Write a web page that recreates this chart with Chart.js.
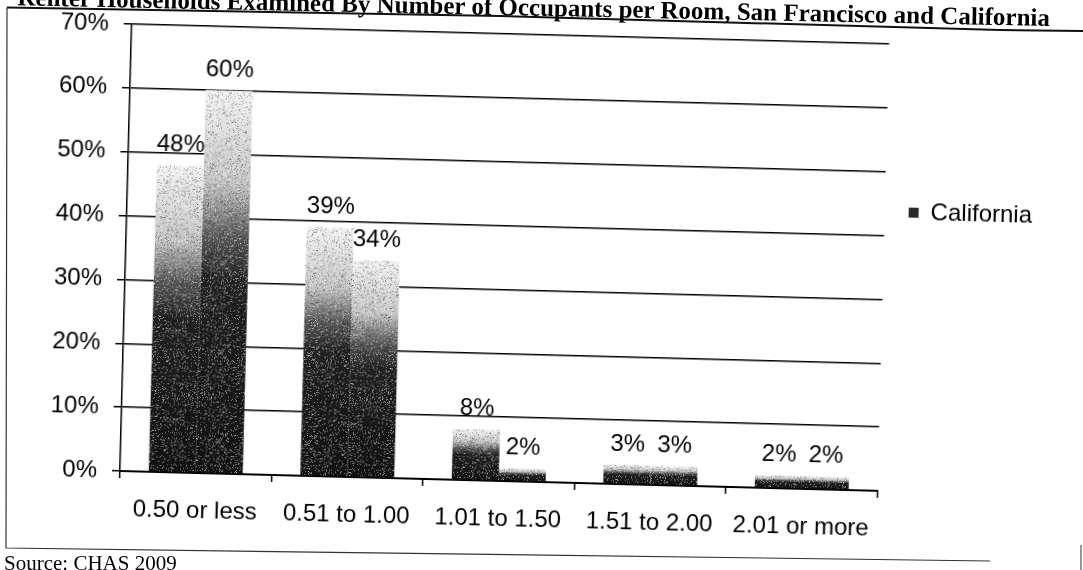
<!DOCTYPE html>
<html>
<head>
<meta charset="utf-8">
<script src="https://cdn.jsdelivr.net/npm/chart.js@4.4.1/dist/chart.umd.min.js"></script>
<style>
    html, body { margin: 0; padding: 0; background: #fff; overflow: hidden; }
    #pagina { position: relative; width: 1083px; height: 570px; overflow: hidden; background: #fff; }
    #caixaGrafico {
        position: absolute; left: 0; top: 0; width: 1083px; height: 570px;
        transform-origin: 120px 471px; transform: rotate(1.5deg);
    }
    #titulo {
        position: absolute; right: 33px; top: 5px;
        font: bold 25px "Liberation Serif", "Times New Roman", serif; line-height: 25px;
        white-space: nowrap; color: #000;
        transform-origin: right bottom; transform: rotate(1.15deg);
    }
    #fonte {
        position: absolute; left: 4px; top: 553px;
        font: 21px "Liberation Serif", "Times New Roman", serif; line-height: 21px;
        white-space: nowrap; color: #000;
    }
    #moldura { position: absolute; left: 0; top: 0; }
</style>
</head>
<body>
<div id="pagina">
    <div id="caixaGrafico"><canvas id="grafico" width="1083" height="570"></canvas></div>
    <svg id="moldura" width="1083" height="570">
        <polyline points="7,7.5 500,16 1000,30 1083,31" fill="none" stroke="#111" stroke-width="2"/>
        <polyline points="7,7.5 6,548 990,561" fill="none" stroke="#333" stroke-width="1.2"/>
        <line x1="1081" y1="545" x2="1081" y2="570" stroke="#555" stroke-width="1.2"/>
    </svg>
    <div id="titulo">Renter Households Examined By Number of Occupants per Room, San Francisco and California</div>
    <div id="fonte">Source: CHAS 2009</div>
</div>
<script>
// Dados do gráfico (percentual de domicílios por faixa de ocupantes por cômodo)
const categorias = ['0.50 or less', '0.51 to 1.00', '1.01 to 1.50', '1.51 to 2.00', '2.01 or more'];
const valoresSanFrancisco = [48, 39, 8, 3, 2];
const valoresCalifornia = [60, 34, 2, 3, 2];
const marcasEixoY = [0, 10, 20, 30, 40, 50, 60, 70];

const fonteTexto = { family: '"Liberation Sans", Arial, sans-serif', size: 24 };

// Degradê de cada barra: escuro na base e claro no topo
function preenchimentoBarra(context) {
    const chart = context.chart;
    if (context.type !== 'data' || !chart.chartArea) return '#2a2a2a';
    const escala = chart.scales.y;
    const base = escala.getPixelForValue(0);
    const topo = escala.getPixelForValue(context.raw);
    if (!isFinite(base) || !isFinite(topo) || base === topo) return '#2a2a2a';
    const g = chart.ctx.createLinearGradient(0, base, 0, topo);
    g.addColorStop(0, '#121212');
    g.addColorStop(0.5, '#222');
    g.addColorStop(0.62, '#5a5a5a');
    g.addColorStop(0.76, '#c4c4c4');
    g.addColorStop(1, '#f2f2f2');
    return g;
}

// Textura pontilhada fixa (gerador linear simples) para imitar a impressão
function criarTextura() {
    const c = document.createElement('canvas');
    c.width = 89; c.height = 89;
    const t = c.getContext('2d');
    let s = 20240;
    const prox = () => (s = (s * 1103515245 + 12345) % 2147483648) / 2147483648;
    for (let i = 0; i < 2400; i++) {
        const x = Math.floor(prox() * 89);
        const y = Math.floor(prox() * 89);
        t.fillStyle = prox() < 0.5 ? 'rgba(255,255,255,0.45)' : 'rgba(0,0,0,0.3)';
        t.fillRect(x, y, 1, 1);
    }
    return c;
}
const textura = criarTextura();

// Aplica a textura às barras e escreve o percentual acima de cada uma
const rotulosValores = {
    id: 'rotulosValores',
    afterDatasetsDraw(chart) {
        const ctx = chart.ctx;
        const padrao = ctx.createPattern(textura, 'repeat');
        ctx.save();
        ctx.fillStyle = padrao;
        chart.data.datasets.forEach((ds, i) => {
            chart.getDatasetMeta(i).data.forEach(barra => {
                const { x, y, base, width } = barra.getProps(['x', 'y', 'base', 'width'], true);
                ctx.fillRect(x - width / 2, y, width, base - y);
            });
        });
        ctx.restore();

        ctx.save();
        ctx.font = '24px "Liberation Sans", Arial, sans-serif';
        ctx.fillStyle = '#000';
        ctx.textAlign = 'center';
        ctx.textBaseline = 'alphabetic';
        chart.data.datasets.forEach((ds, i) => {
            chart.getDatasetMeta(i).data.forEach((barra, j) => {
                ctx.fillText(ds.data[j] + '%', barra.x, barra.y - 14);
            });
        });
        ctx.restore();
    }
};

// Desloca a legenda para a posição usada no relatório
const ajusteLegenda = {
    id: 'ajusteLegenda',
    afterLayout(chart) {
        const leg = chart.legend;
        if (!leg) return;
        const dx = 14, dy = -105;
        leg.left += dx; leg.right += dx;
        leg.top += dy; leg.bottom += dy;
    }
};

const graficoCtx = document.getElementById('grafico').getContext('2d');

new Chart(graficoCtx, {
    type: 'bar',
    data: {
        labels: categorias,
        datasets: [
            {
                label: 'San Francisco',
                data: valoresSanFrancisco,
                backgroundColor: preenchimentoBarra,
                borderWidth: 0
            },
            {
                label: 'California',
                data: valoresCalifornia,
                backgroundColor: preenchimentoBarra,
                borderWidth: 0
            }
        ]
    },
    options: {
        responsive: false,
        animation: false,
        layout: { padding: { top: 24, left: 0, right: 62, bottom: 0 } },
        datasets: {
            bar: { categoryPercentage: 0.62, barPercentage: 1.0 }
        },
        scales: {
            x: {
                grid: {
                    display: true, drawOnChartArea: false, offset: true,
                    tickLength: 7, color: '#000', lineWidth: 1.5
                },
                border: { display: true, color: '#000', width: 2 },
                ticks: { color: '#000', font: fonteTexto, padding: 17, maxRotation: 0 },
                afterFit(escala) { escala.height = 99; }
            },
            y: {
                min: 0,
                max: 70,
                afterBuildTicks(escala) {
                    escala.ticks = marcasEixoY.map(v => ({ value: v }));
                },
                grid: { color: '#000', lineWidth: 1.5, tickLength: 8, drawTicks: true },
                border: { display: true, color: '#000', width: 1.5 },
                ticks: {
                    color: '#000', font: fonteTexto, padding: 15,
                    callback: valor => valor + '%'
                },
                afterFit(escala) {
                    escala.width = 120;
                    escala.paddingTop = 0;
                }
            }
        },
        plugins: {
            legend: {
                position: 'right',
                labels: {
                    color: '#000',
                    font: fonteTexto,
                    boxWidth: 10,
                    boxHeight: 10,
                    generateLabels: chart =>
                        Chart.defaults.plugins.legend.labels.generateLabels(chart)
                            .map(item => ({ ...item, fillStyle: '#2a2a2a', strokeStyle: '#2a2a2a' })),
                    filter: item => item.datasetIndex === 1
                }
            },
            tooltip: { enabled: false }
        }
    },
    plugins: [rotulosValores, ajusteLegenda]
});
</script>
</body>
</html>
